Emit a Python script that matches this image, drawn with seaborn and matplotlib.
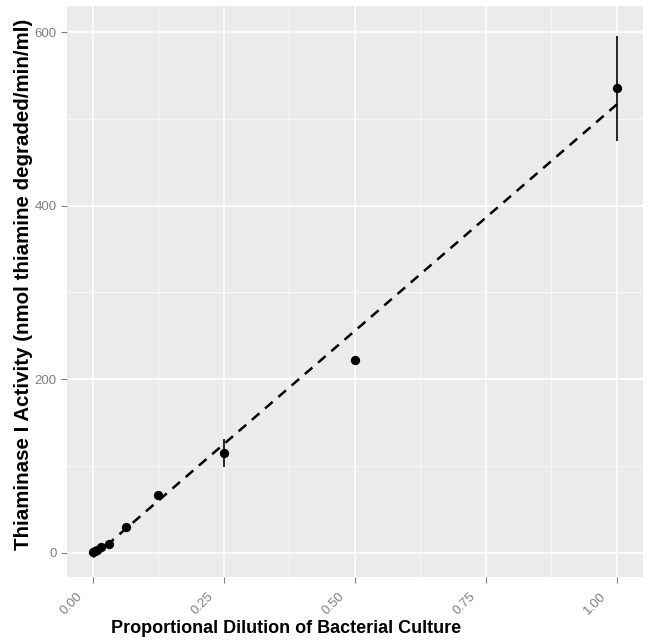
import matplotlib
matplotlib.use("Agg")
import matplotlib.pyplot as plt
import matplotlib.ticker as mticker
import matplotlib.transforms as mtransforms
import seaborn as sns
import pandas as pd

# dilution series and measured activity (mean, error)
dilution = [0.0, 0.00390625, 0.0078125, 0.015625, 0.03125, 0.0625, 0.125, 0.25, 0.5, 1.0]
activity = [1, 2, 3, 6, 10, 30, 66, 115, 222, 535]
error = [0, 0, 0, 0, 0, 0, 0, 16, 0, 60]

x_ticks = [0.0, 0.25, 0.5, 0.75, 1.0]
x_tick_labels = ["0.00", "0.25", "0.50", "0.75", "1.00"]
y_ticks = [0, 200, 400, 600]

df = pd.DataFrame({"dilution": dilution, "activity": activity, "error": error})

sns.set_theme(style="darkgrid", rc={
    "axes.facecolor": "#EBEBEB",
    "grid.color": "white",
    "axes.edgecolor": "#EBEBEB",
})
plt.rcParams["font.family"] = ["Liberation Sans", "DejaVu Sans"]

fig = plt.figure(figsize=(6.5, 6.43), dpi=100)
ax = fig.add_axes([67 / 650, 1 - 577 / 643, (643 - 67) / 650, (577 - 6) / 643])

# minor grid first, underneath everything
ax.xaxis.set_minor_locator(mticker.MultipleLocator(0.125))
ax.yaxis.set_minor_locator(mticker.MultipleLocator(100))
ax.grid(which="minor", color="white", linewidth=0.5)
ax.grid(which="major", color="white", linewidth=1.2)
ax.set_axisbelow(True)

sns.regplot(data=df, x="dilution", y="activity", scatter=False, ci=None,
            color="black", ax=ax,
            line_kws={"linestyle": (0, (4, 3)), "linewidth": 1.8})

ax.errorbar(df["dilution"], df["activity"], yerr=df["error"], fmt="none",
            ecolor="black", elinewidth=1.2, capsize=0)
sns.scatterplot(data=df, x="dilution", y="activity", color="black", s=45,
                edgecolor="black", linewidth=0, ax=ax, zorder=5)

ax.set_xlim(-0.0496, 1.05)
ax.set_ylim(-28, 630)
ax.set_xticks(x_ticks)
ax.set_xticklabels(x_tick_labels, rotation=45, ha="right", rotation_mode="anchor")
ax.set_yticks(y_ticks)

ax.tick_params(axis="both", which="major", length=4, width=0.8, color="#7F7F7F",
               labelcolor="#7F7F7F", labelsize=9.5, bottom=True, left=True)
ax.tick_params(axis="x", which="major", pad=2)
ax.tick_params(axis="both", which="minor", length=0)
shift = mtransforms.ScaledTranslation(-17 / 100, -5 / 100, fig.dpi_scale_trans)
for lbl in ax.get_xticklabels():
    lbl.set_transform(lbl.get_transform() + shift)

ax.set_xlabel("Proportional Dilution of Bacterial Culture", fontsize=13,
              fontweight="bold", color="black")
ax.xaxis.set_label_coords(0.38, -0.076)
ax.set_ylabel("Thiaminase I Activity (nmol thiamine degraded/min/ml)", fontsize=14.8,
              fontweight="bold", color="black")
ax.yaxis.set_label_coords(-0.076, 0.513)
ax.yaxis.label.set_va("center")

for s in ax.spines.values():
    s.set_visible(False)

fig.savefig("out.png", dpi=100)
